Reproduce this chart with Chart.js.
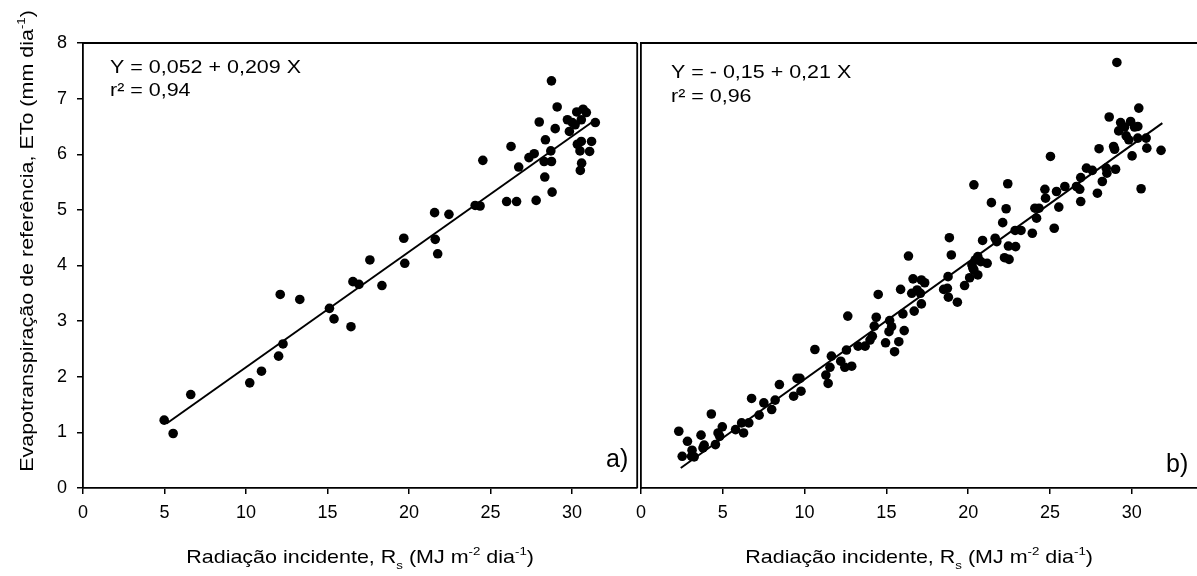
<!DOCTYPE html>
<html>
<head>
<meta charset="utf-8">
<script src="https://cdn.jsdelivr.net/npm/chart.js@4"></script>
<style>
  html, body { margin: 0; padding: 0; background: #fff; overflow: hidden; }
  #wrap { position: relative; width: 1197px; height: 576px; }
  canvas { position: absolute; top: 0; }
  #chartA { left: 0; }
  #chartB { left: 600px; }
</style>
</head>
<body>
<div id="wrap">
  <canvas id="chartA" width="642" height="576"></canvas>
  <canvas id="chartB" width="602" height="576"></canvas>
</div>
<script>
// panel a) - incident radiation (MJ m-2 dia-1) vs ETo (mm dia-1)
const radA = [4.98, 5.53, 6.61, 10.23, 10.95, 12.0, 12.27, 12.1, 13.3, 15.12, 15.4, 16.44, 16.56, 16.93,
  17.6, 18.34, 19.68, 19.74, 21.57, 21.61, 21.76, 22.45, 24.06, 24.36, 24.53, 25.99, 26.6, 26.26, 26.73,
  27.8, 27.36, 27.68, 27.99, 28.33, 28.37, 28.29, 28.74, 28.7, 28.78, 28.74, 28.97, 29.09, 29.72, 29.84,
  30.02, 30.19, 30.29, 30.68, 30.88, 30.57, 31.43, 30.57, 31.2, 30.33, 30.49, 31.08, 30.59, 30.51];
const etoA = [1.22, 0.98, 1.68, 1.89, 2.10, 2.37, 2.59, 3.48, 3.39, 3.23, 3.04, 2.90, 3.71, 3.66,
  4.10, 3.64, 4.49, 4.04, 4.95, 4.47, 4.21, 4.92, 5.08, 5.07, 5.89, 5.15, 5.15, 6.14, 5.77,
  5.17, 5.94, 6.01, 6.58, 5.59, 6.26, 5.87, 5.87, 6.06, 5.32, 7.32, 6.46, 6.85, 6.62, 6.41,
  6.57, 6.53, 6.76, 6.81, 6.75, 6.62, 6.57, 6.23, 6.23, 6.18, 6.06, 6.05, 5.84, 5.71];

// panel b)
const radB = [2.31, 2.52, 2.84, 3.12, 3.25, 3.09, 3.67, 3.86, 3.79, 4.30, 4.55, 4.71, 4.97, 4.81, 5.78,
  6.15, 6.27, 6.59, 6.76, 7.22, 7.51, 7.99, 8.2, 8.46, 9.33, 9.78, 9.54, 9.72, 10.63, 11.3, 11.44, 11.55,
  11.64, 12.21, 12.46, 12.88, 12.56, 12.64, 13.27, 13.7, 14.0, 14.26,
  14.38, 14.14, 14.5, 14.95, 15.2, 15.16, 15.32, 15.5, 15.76, 16.09, 16.01, 15.87, 16.35, 16.7, 16.55,
  16.88, 17.08, 16.63, 17.14, 17.34, 17.14, 18.77, 18.5, 18.73, 18.79, 19.34, 18.85, 18.97, 19.78, 20.09,
  20.29, 20.43, 20.59, 20.77, 21.16, 20.59, 20.23, 20.35, 20.88, 21.65, 21.75, 20.35, 21.42, 22.11, 22.32,
  22.42, 22.22, 22.5, 22.46, 22.9, 22.87, 23.23, 23.92, 24.08, 24.18,
  24.33, 25.26, 24.69, 24.73, 25.4, 25.91, 25.54, 25.03, 26.62, 26.82, 26.88, 26.88, 27.23, 27.59, 27.9,
  28.2, 28.44, 28.48, 29.01, 28.0, 28.89, 28.95, 28.62, 29.09, 29.32, 29.2, 29.56, 29.93, 29.66, 29.82,
  30.17, 30.37, 30.43, 30.37, 30.88, 30.02, 30.92, 31.79, 30.57];
const etoB = [1.02, 0.57, 0.84, 0.68, 0.56, 0.57, 0.95, 0.77, 0.72, 1.33, 0.78, 0.99, 1.10, 0.93, 1.05,
  1.17, 0.99, 1.17, 1.61, 1.31, 1.53, 1.41, 1.58, 1.86, 1.65, 1.74, 1.97, 1.97, 2.49, 2.03, 1.88, 2.17,
  2.37, 2.28, 2.17, 2.19, 2.48, 3.09, 2.55, 2.55, 2.66, 2.91,
  3.07, 2.73, 3.48, 2.61, 3.01, 2.81, 2.90, 2.45, 2.63, 2.83, 3.13, 3.57, 4.17, 3.18, 3.50,
  3.56, 3.50, 3.76, 3.74, 3.69, 3.31, 3.80, 3.57, 3.59, 3.43, 3.34, 4.50, 4.19, 3.64, 3.78,
  3.95, 4.10, 4.16, 4.07, 4.04, 3.83, 4.01, 3.92, 4.45, 4.49, 4.43, 5.45, 5.13, 4.77, 5.02,
  5.47, 4.14, 4.11, 4.35, 4.34, 4.63, 4.63, 4.58, 5.03, 4.85,
  5.03, 4.67, 5.37, 5.21, 5.33, 5.42, 5.05, 5.96, 5.42, 5.37, 5.15, 5.58, 5.75, 5.71, 5.30,
  5.51, 5.75, 5.66, 5.73, 6.10, 6.14, 6.09, 6.67, 7.65, 6.57, 6.42, 6.49, 6.59, 6.33, 6.26,
  6.49, 6.50, 6.83, 6.29, 6.29, 5.97, 6.11, 6.07, 5.38];

// regression line end points as drawn
const fitA_x = [5.13, 31.2];
const fitA_y = [1.16, 6.57];
const fitB_x = [2.43, 31.87];
const fitB_y = [0.36, 6.56];

const xTicks = [0, 5, 10, 15, 20, 25, 30];
const yTicks = [0, 1, 2, 3, 4, 5, 6, 7, 8];

const FONT = 'Arial, "Liberation Sans", sans-serif';

function zip(xs, ys) {
  return xs.map((x, i) => ({ x: x, y: ys[i] }));
}

// text with super/subscripts, drawn straight onto the canvas
function richText(ctx, parts, x, y, size, align, rotate, stretch) {
  ctx.save();
  ctx.translate(x, y);
  if (rotate) ctx.rotate(-Math.PI / 2);
  ctx.scale(stretch, 1);
  ctx.fillStyle = '#000';
  ctx.textBaseline = 'alphabetic';
  ctx.textAlign = 'left';
  const fontFor = m => (m ? size * 0.62 : size) + 'px ' + FONT;
  let total = 0;
  parts.forEach(([t, m]) => { ctx.font = fontFor(m); total += ctx.measureText(t).width; });
  let cx = align === 'center' ? -total / 2 : 0;
  parts.forEach(([t, m]) => {
    ctx.font = fontFor(m);
    const dy = m === 1 ? -size * 0.42 : m === -1 ? size * 0.3 : 0;
    ctx.fillText(t, cx, dy);
    cx += ctx.measureText(t).width;
  });
  ctx.restore();
}

const xTitle = [['Radiação incidente, R', 0], ['s', -1], [' (MJ m', 0], ['-2', 1], [' dia', 0], ['-1', 1], [')', 0]];
const yTitle = [['Evapotranspiração de referência, ETo (mm dia', 0], ['-1', 1], [')', 0]];

function decorPlugin(cfg) {
  return {
    id: 'decor',
    afterDraw(chart) {
      const ctx = chart.ctx;
      const a = chart.chartArea;
      ctx.save();
      ctx.strokeStyle = '#000';
      ctx.lineWidth = 1.8;
      ctx.beginPath();
      ctx.moveTo(a.left, a.top);
      ctx.lineTo(a.right, a.top);
      if (cfg.rightBorder) {
        ctx.moveTo(a.right, a.top);
        ctx.lineTo(a.right, a.bottom);
      }
      ctx.stroke();
      ctx.restore();

      const cx = (a.left + a.right) / 2;
      richText(ctx, xTitle, cx, 563, 19, 'center', false, 1.13);
      if (cfg.yTitle) richText(ctx, yTitle, 33, 241, 19, 'center', true, 1.13);

      richText(ctx, [[cfg.eq, 0]], a.left + cfg.eqDx, cfg.eqY, 19, 'left', false, 1.13);
      richText(ctx, [[cfg.r2, 0]], a.left + cfg.eqDx, cfg.eqY + 23.5, 19, 'left', false, 1.13);

      ctx.save();
      ctx.fillStyle = '#000';
      ctx.font = '25px ' + FONT;
      ctx.textAlign = 'left';
      ctx.textBaseline = 'alphabetic';
      ctx.fillText(cfg.tag, cfg.tagX, cfg.tagY);
      ctx.restore();
    }
  };
}

function xScale() {
  return {
    type: 'linear',
    min: 0,
    max: 34,
    afterBuildTicks: s => { s.ticks = xTicks.map(v => ({ value: v })); },
    ticks: { color: '#000', font: { family: FONT, size: 18 }, padding: 8, maxRotation: 0, autoSkip: false },
    grid: { drawOnChartArea: false, drawTicks: true, tickLength: 6, color: '#000', lineWidth: 1.5 },
    border: { color: '#000', width: 1.8 },
    afterFit: s => { s.height = 88; }
  };
}

function makeChart(id, xs, ys, fx, fy, withAxis, cfg, padRight) {
  const yScale = {
    type: 'linear',
    min: 0,
    max: 8,
    afterBuildTicks: s => { s.ticks = yTicks.map(v => ({ value: v })); },
    ticks: { display: withAxis, color: '#000', font: { family: FONT, size: 18 }, padding: 10 },
    grid: withAxis
      ? { drawOnChartArea: false, drawTicks: true, tickLength: 6, color: '#000', lineWidth: 1.5 }
      : { display: false },
    border: { color: '#000', width: 1.8 },
    afterFit: s => { s.width = withAxis ? 83 : 41; }
  };

  return new Chart(document.getElementById(id), {
    type: 'scatter',
    data: {
      datasets: [
        {
          data: zip(xs, ys),
          pointRadius: 4.8,
          pointBackgroundColor: '#000',
          pointBorderWidth: 0,
          pointHoverRadius: 4.8
        },
        {
          data: zip(fx, fy),
          showLine: true,
          borderColor: '#000',
          borderWidth: 2,
          pointRadius: 0,
          fill: false
        }
      ]
    },
    options: {
      responsive: false,
      devicePixelRatio: 1,
      animation: false,
      layout: { padding: { left: 0, top: 43, right: padRight, bottom: 0 } },
      scales: { x: xScale(), y: yScale },
      plugins: { legend: { display: false }, tooltip: { enabled: false }, title: { display: false } }
    },
    plugins: [decorPlugin(cfg)]
  });
}

makeChart('chartA', radA, etoA, fitA_x, fitA_y, true, {
  rightBorder: true, yTitle: true,
  eq: 'Y = 0,052 + 0,209 X', r2: 'r² = 0,94', eqDx: 27, eqY: 72.7,
  tag: 'a)', tagX: 606, tagY: 467
}, 1);

makeChart('chartB', radB, etoB, fitB_x, fitB_y, false, {
  rightBorder: false, yTitle: false,
  eq: 'Y = - 0,15 + 0,21 X', r2: 'r² = 0,96', eqDx: 30, eqY: 78,
  tag: 'b)', tagX: 566, tagY: 472
}, 2);
</script>
</body>
</html>
